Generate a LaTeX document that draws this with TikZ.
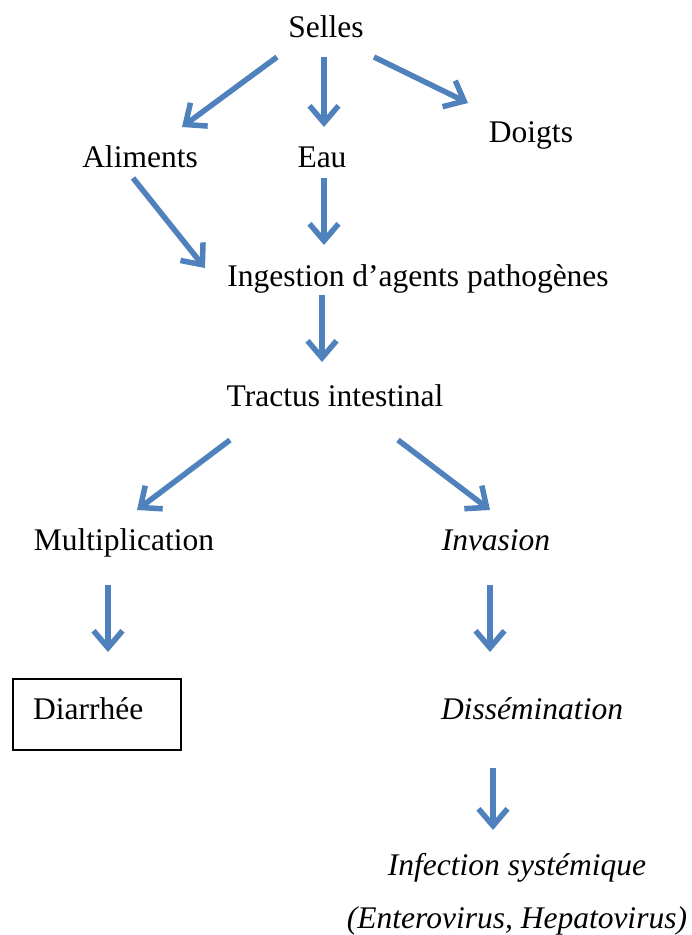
\documentclass[tikz,border=0pt]{standalone}
\usepackage{fontspec}
\setmainfont{Liberation Serif}
\usetikzlibrary{arrows.meta}
\definecolor{arrblue}{RGB}{79,129,189}
\tikzset{
  lbl/.style={inner sep=0pt, anchor=base, font=\fontsize{31.5}{36}\selectfont},
  ilbl/.style={lbl, font=\fontsize{31.5}{36}\selectfont\itshape},
  arr/.style={draw=arrblue, line width=5.5pt, -{Straight Barb[length=17pt,width=29pt]}, line cap=butt}
}
\begin{document}
\begin{tikzpicture}[x=1pt,y=-1pt]
\useasboundingbox (0,0) rectangle (692,935);
\node[lbl] (selles) at (326,37) {Selles};
\node[lbl] (aliments) at (140,167) {Aliments};
\node[lbl] (eau) at (322,167) {Eau};
\node[lbl] (doigts) at (531,142) {Doigts};
\node[lbl] (ingestion) at (418,286) {Ingestion d’agents pathogènes};
\node[lbl] (tractus) at (335,406) {Tractus intestinal};
\node[lbl] (multi) at (124,550) {Multiplication};
\node[ilbl] (invasion) at (496,550) {Invasion};
\node[draw, line width=1.5pt, minimum width=168pt, minimum height=71pt] (boxd) at (97,714.5) {};
\node[lbl, anchor=base west] (diarrhee) at (33,719) {Diarrhée};
\node[ilbl] (dissem) at (532,719) {Dissémination};
\node[ilbl] (infection) at (517,875) {Infection systémique};
\node[ilbl] (entero) at (517,928) {(Enterovirus, Hepatovirus)};
% arrow endpoints
\coordinate (a1s) at (277,57); \coordinate (a1e) at (182,127);
\coordinate (a2s) at (324,57); \coordinate (a2e) at (324,127);
\coordinate (a3s) at (374,57); \coordinate (a3e) at (468,103);
\coordinate (a4s) at (133,178); \coordinate (a4e) at (205,268);
\coordinate (a5s) at (324,178); \coordinate (a5e) at (324,245);
\coordinate (a6s) at (322,295); \coordinate (a6e) at (322,362);
\coordinate (a7s) at (230,440); \coordinate (a7e) at (137,510);
\coordinate (a8s) at (398,440); \coordinate (a8e) at (490,510);
\coordinate (a9s) at (108,585); \coordinate (a9e) at (108,652);
\coordinate (a10s) at (490,585); \coordinate (a10e) at (490,652);
\coordinate (a11s) at (493,768); \coordinate (a11e) at (493,830);
\foreach \i in {1,...,11} \draw[arr] (a\i s) -- (a\i e);
\end{tikzpicture}
\end{document}
